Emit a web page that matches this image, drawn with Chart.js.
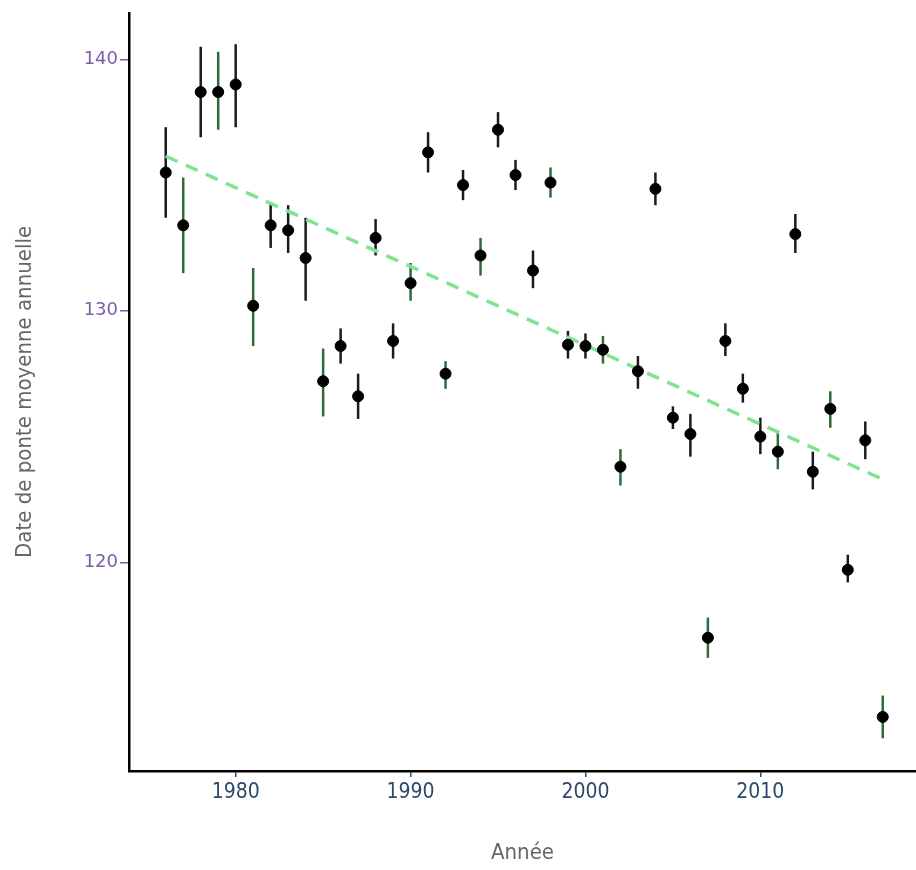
<!DOCTYPE html>
<html lang="fr">
<head>
    <meta charset="UTF-8">
    <title>Date de ponte moyenne annuelle</title>
    <style>
        body {
            margin: 0;
            padding: 0;
            background-color: #fff;
        }
        .wrap {
            width: 916px;
            height: 870px;
        }
    </style>
</head>
<body>
    <div class="wrap">
        <canvas id="ponteChart" width="916" height="870"></canvas>
    </div>
    <script src="https://cdn.jsdelivr.net/npm/chart.js"></script>
    <script>
// data
const years = [1976, 1977, 1978, 1979, 1980, 1981, 1982, 1983, 1984, 1985, 1986, 1987, 1988, 1989,
    1990, 1991, 1992, 1993, 1994, 1995, 1996, 1997, 1998, 1999, 2000, 2001, 2002, 2003,
    2004, 2005, 2006, 2007, 2008, 2009, 2010, 2011, 2012, 2013, 2014, 2015, 2016, 2017];
const meanDate = [135.5, 133.4, 138.7, 138.7, 139.0, 130.2, 133.4, 133.2, 132.1, 127.2, 128.6, 126.6, 132.9, 128.8,
    131.1, 136.3, 127.5, 135.0, 132.2, 137.2, 135.4, 131.6, 135.1, 128.65, 128.6, 128.45, 123.8, 127.6,
    134.85, 125.75, 125.1, 117.0, 128.8, 126.9, 125.0, 124.4, 133.05, 123.6, 126.1, 119.7, 124.85, 113.85];
const upper = [137.3, 135.3, 140.5, 140.3, 140.6, 131.7, 134.3, 134.2, 133.7, 128.5, 129.3, 127.5, 133.65, 129.5,
    131.9, 137.1, 128.0, 135.6, 132.9, 137.9, 136.0, 132.4, 135.7, 129.2, 129.1, 129.0, 124.5, 128.2,
    135.5, 126.2, 125.9, 117.8, 129.5, 127.5, 125.75, 125.2, 133.85, 124.4, 126.8, 120.3, 125.6, 114.7];
const lower = [133.7, 131.5, 136.9, 137.2, 137.3, 128.6, 132.5, 132.3, 130.4, 125.8, 127.9, 125.7, 132.2, 128.1,
    130.4, 135.5, 126.9, 134.4, 131.4, 136.5, 134.8, 130.9, 134.5, 128.1, 128.1, 127.9, 123.05, 126.9,
    134.2, 125.3, 124.2, 116.2, 128.2, 126.35, 124.3, 123.7, 132.3, 122.9, 125.35, 119.2, 124.1, 113.0];
const trendYears = [1976, 2017];
const trendValues = [136.15, 123.3];
const xTicks = [1980, 1990, 2000, 2010];
const yTicks = [120, 130, 140];

// years whose error bar is drawn in dark green instead of black
const greenYears = [1977, 1979, 1981, 1985, 1990, 1992, 1994, 1998, 2001, 2002, 2007, 2011, 2014, 2017];

// "condensed" goes into the font shorthand through the weight slot
const narrow = '"DejaVu Sans", sans-serif';

const errorBars = {
    id: 'errorBars',
    beforeDatasetsDraw(chart) {
        const ctx = chart.ctx;
        const x = chart.scales.x;
        const y = chart.scales.y;
        ctx.save();
        ctx.lineWidth = 2.5;
        years.forEach((yr, i) => {
            const px = x.getPixelForValue(yr);
            ctx.strokeStyle = greenYears.includes(yr) ? '#2f6b36' : '#1b1b1b';
            ctx.beginPath();
            ctx.moveTo(px, y.getPixelForValue(upper[i]));
            ctx.lineTo(px, y.getPixelForValue(lower[i]));
            ctx.stroke();
        });
        ctx.restore();
    }
};

const ctx = document.getElementById('ponteChart').getContext('2d');
new Chart(ctx, {
    type: 'scatter',
    data: {
        datasets: [{
            label: 'Date de ponte',
            data: years.map((yr, i) => ({ x: yr, y: meanDate[i] })),
            backgroundColor: '#000',
            borderColor: '#000',
            pointRadius: 5.5,
            order: 0
        }, {
            type: 'line',
            label: 'Tendance',
            data: trendYears.map((yr, i) => ({ x: yr, y: trendValues[i] })),
            borderColor: '#80e391',
            borderWidth: 3.5,
            borderDash: [13, 9],
            pointRadius: 0,
            fill: false,
            order: 1
        }]
    },
    options: {
        responsive: false,
        animation: false,
        layout: { autoPadding: false, padding: { top: 12, right: 0, left: 0, bottom: 0 } },
        plugins: {
            legend: { display: false },
            tooltip: { enabled: false }
        },
        scales: {
            x: {
                type: 'linear',
                min: 1973.9,
                max: 2018.9,
                afterBuildTicks: s => { s.ticks = xTicks.map(v => ({ value: v })); },
                afterFit: s => { s.height = 99; s.paddingLeft = 0; s.paddingRight = 0; },
                border: { color: '#000', width: 2.5 },
                grid: { drawOnChartArea: false, color: '#2e4a6b', tickLength: 6, lineWidth: 1.5 },
                ticks: {
                    color: '#2e4a6b',
                    padding: 3,
                    callback: v => String(v),
                    font: { family: narrow, weight: 'condensed', size: 21 }
                },
                title: {
                    display: true,
                    text: 'Année',
                    color: '#666',
                    padding: { top: 34 },
                    font: { family: narrow, weight: 'condensed', size: 22 }
                }
            },
            y: {
                type: 'linear',
                min: 111.7,
                max: 141.85,
                afterBuildTicks: s => { s.ticks = yTicks.map(v => ({ value: v })); },
                afterFit: s => { s.width = 129; },
                border: { color: '#000', width: 2.5 },
                grid: { drawOnChartArea: false, color: '#7b5ea7', tickLength: 9, lineWidth: 1.5 },
                ticks: {
                    color: '#7b5ea7',
                    padding: 2,
                    font: { family: '"DejaVu Sans", sans-serif', size: 18 }
                },
                title: {
                    display: true,
                    text: 'Date de ponte moyenne annuelle',
                    color: '#666',
                    padding: { top: 12 },
                    font: { family: narrow, weight: 'condensed', size: 22 }
                }
            }
        }
    },
    plugins: [errorBars]
});
    </script>
</body>
</html>
